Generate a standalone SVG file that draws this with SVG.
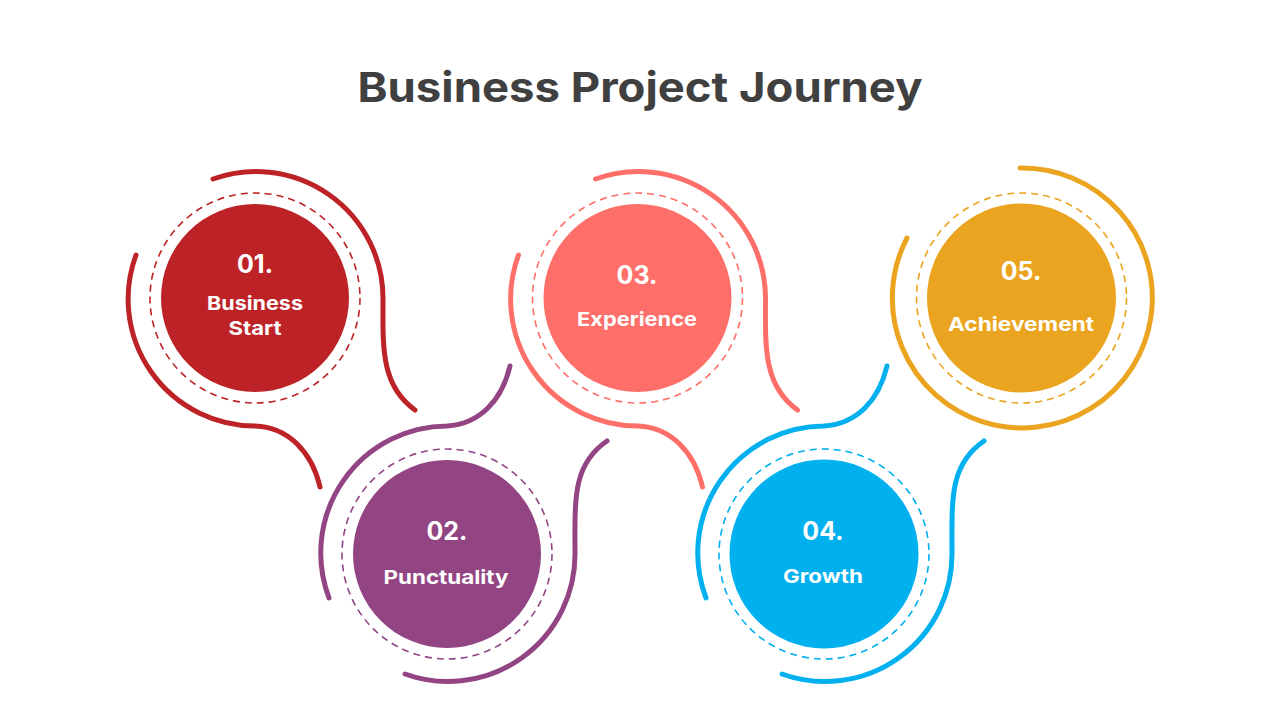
<svg xmlns="http://www.w3.org/2000/svg" width="1280" height="720" viewBox="0 0 1280 720">
<style>
.title{font-family:Inter,"Open Sans","Liberation Sans",sans-serif;font-weight:700;font-size:41px;fill:#404040;text-anchor:middle}
.num{font-family:Inter,"Open Sans","Liberation Sans",sans-serif;font-weight:700;font-size:25px;fill:#fff;text-anchor:middle}
.lbl{font-family:Inter,"Open Sans","Liberation Sans",sans-serif;font-weight:700;font-size:19px;fill:#fff;text-anchor:middle}
.arc{fill:none;stroke-width:5;stroke-linecap:round}
.dash{fill:none;stroke-width:1.6;stroke-dasharray:7 5}
</style>
<rect width="1280" height="720" fill="#fff"/>
<text class="title" x="640" y="102" textLength="565" lengthAdjust="spacingAndGlyphs">Business Project Journey</text>

<g id="connectors">
  <g stroke="#BD2326" class="c1">
    <path class="arc" d="M213,179 A127,127 0 0 1 383,298 C383,345 380,385 415,410"/>
    <path class="arc" d="M136,255 A127,127 0 0 0 255,426 C288,427 312,452 320,487"/>
  </g>
  <g stroke="#934583">
    <path class="arc" d="M329,598 A127,127 0 0 1 447,426 C480,424 502,400 510,366"/>
    <path class="arc" d="M405,674 A127,127 0 0 0 575,554 C575,500 572,465 607,441"/>
  </g>
  <g stroke="#FE6F69" transform="translate(382.5,0)">
    <path class="arc" d="M213,179 A127,127 0 0 1 383,298 C383,345 380,385 415,410"/>
    <path class="arc" d="M136,255 A127,127 0 0 0 255,426 C288,427 312,452 320,487"/>
  </g>
  <g stroke="#00B0EF" transform="translate(377,0)">
    <path class="arc" d="M329,598 A127,127 0 0 1 447,426 C480,424 502,400 510,366"/>
    <path class="arc" d="M405,674 A127,127 0 0 0 575,554 C575,500 572,465 607,441"/>
  </g>
  <g stroke="#EBA41F">
    <path class="arc" d="M1020,168 A130,130 0 1 1 907,238"/>
  </g>
</g>

<g id="node1">
  <circle class="dash" cx="255" cy="298" r="105" stroke="#BD2326"/>
  <circle cx="255" cy="298" r="94" fill="#BD2326"/>
  <text class="num" x="255" y="273">01.</text>
  <text class="lbl" x="255" y="310" textLength="96" lengthAdjust="spacingAndGlyphs">Business</text>
  <text class="lbl" x="255" y="335" textLength="53" lengthAdjust="spacingAndGlyphs">Start</text>
</g>
<g id="node2">
  <circle class="dash" cx="447" cy="554" r="105" stroke="#934583"/>
  <circle cx="447" cy="554" r="94" fill="#934583"/>
  <text class="num" x="447" y="540">02.</text>
  <text class="lbl" x="446" y="584" textLength="125" lengthAdjust="spacingAndGlyphs">Punctuality</text>
</g>
<g id="node3">
  <circle class="dash" cx="637.5" cy="298" r="105" stroke="#FE6F69"/>
  <circle cx="637.5" cy="298" r="94" fill="#FE6F69"/>
  <text class="num" x="637" y="284">03.</text>
  <text class="lbl" x="637" y="326" textLength="120" lengthAdjust="spacingAndGlyphs">Experience</text>
</g>
<g id="node4">
  <circle class="dash" cx="824" cy="554" r="105" stroke="#00B0EF"/>
  <circle cx="824" cy="554" r="94.5" fill="#00B0EF"/>
  <text class="num" x="823" y="540">04.</text>
  <text class="lbl" x="823" y="583" textLength="80" lengthAdjust="spacingAndGlyphs">Growth</text>
</g>
<g id="node5">
  <circle class="dash" cx="1021.5" cy="298" r="105" stroke="#EBA41F"/>
  <circle cx="1021.5" cy="298" r="94.5" fill="#EBA41F"/>
  <text class="num" x="1021" y="280">05.</text>
  <text class="lbl" x="1021" y="331" textLength="146" lengthAdjust="spacingAndGlyphs">Achievement</text>
</g>
</svg>
